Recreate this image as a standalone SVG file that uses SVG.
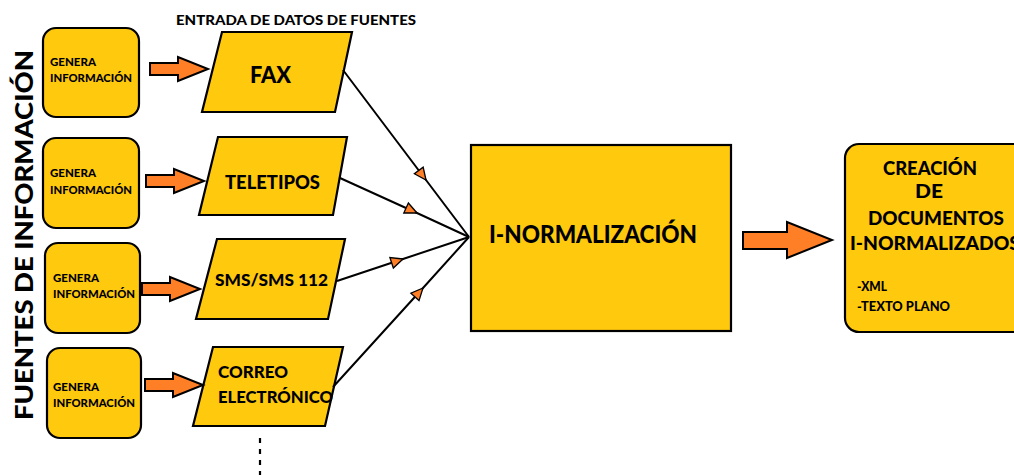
<svg xmlns="http://www.w3.org/2000/svg" width="1014" height="475" viewBox="0 0 1014 475">
<style>
.y{fill:#FFC90E;stroke:#000;stroke-width:2.2}
.or{fill:#FF7F27;stroke:#000;stroke-width:2}
.t{font-family:Lato,"Open Sans","Liberation Sans",sans-serif;font-weight:900;fill:#000}
.g{font-size:11px}
.c{fill:none;stroke:#000;stroke-width:2}
</style>
<defs>
<marker id="ah" viewBox="-14 -8 16 16" refX="0" refY="0" markerWidth="16" markerHeight="16" markerUnits="userSpaceOnUse" orient="auto">
<path d="M0,0 L-12,-5.5 L-12,5.5 Z" fill="#FF7F27" stroke="#000" stroke-width="1.3"/>
</marker>
<path id="sa" d="M-58,-6 H-30 V-12 L0,0 L-30,12 V6 H-58 Z"/>
</defs>
<rect width="1014" height="475" fill="#fff"/>
<text class="t" transform="translate(33,420) rotate(-90)" font-size="25" fill="#111" textLength="370" lengthAdjust="spacingAndGlyphs">FUENTES DE INFORMACIÓN</text>
<text class="t" x="176" y="25" font-size="14" textLength="240" lengthAdjust="spacingAndGlyphs">ENTRADA DE DATOS DE FUENTES</text>
<g id="src1"><rect class="y" x="43" y="28" width="96" height="89" rx="13"/><text class="t g" x="50" y="66" textLength="46" lengthAdjust="spacingAndGlyphs">GENERA</text><text class="t g" x="50" y="82" textLength="82" lengthAdjust="spacingAndGlyphs">INFORMACIÓN</text></g>
<g id="src2"><rect class="y" x="43" y="138" width="96" height="90" rx="13"/><text class="t g" x="50" y="177" textLength="46" lengthAdjust="spacingAndGlyphs">GENERA</text><text class="t g" x="50" y="194" textLength="82" lengthAdjust="spacingAndGlyphs">INFORMACIÓN</text></g>
<g id="src3"><rect class="y" x="45" y="243" width="95" height="90" rx="13"/><text class="t g" x="53" y="282" textLength="46" lengthAdjust="spacingAndGlyphs">GENERA</text><text class="t g" x="53" y="298" textLength="82" lengthAdjust="spacingAndGlyphs">INFORMACIÓN</text></g>
<g id="src4"><rect class="y" x="47" y="348" width="94" height="90" rx="13"/><text class="t g" x="53" y="391" textLength="46" lengthAdjust="spacingAndGlyphs">GENERA</text><text class="t g" x="53" y="407" textLength="82" lengthAdjust="spacingAndGlyphs">INFORMACIÓN</text></g>
<g id="fax"><polygon class="y" points="222,32 352,32 335,112 202,112"/><text class="t" x="250" y="83" font-size="23" textLength="41" lengthAdjust="spacingAndGlyphs">FAX</text></g>
<g id="teletipos"><polygon class="y" points="218,137 347,137 333,215 199,215"/><text class="t" x="225" y="189" font-size="19" textLength="95" lengthAdjust="spacingAndGlyphs">TELETIPOS</text></g>
<g id="sms"><polygon class="y" points="217,239 345,239 328,319 196,319"/><text class="t" x="215" y="286" font-size="17" textLength="113" lengthAdjust="spacingAndGlyphs">SMS/SMS 112</text></g>
<g id="correo"><polygon class="y" points="213,347 343,347 325,426 193,426"/><text class="t" x="218" y="378" font-size="17" textLength="70" lengthAdjust="spacingAndGlyphs">CORREO</text><text class="t" x="218" y="403" font-size="17" textLength="115" lengthAdjust="spacingAndGlyphs">ELECTRÓNICO</text></g>
<g id="norm"><rect class="y" x="471" y="145" width="260" height="186"/><text class="t" x="489" y="243" font-size="24" textLength="208" lengthAdjust="spacingAndGlyphs">I-NORMALIZACIÓN</text></g>
<g id="docs"><rect class="y" x="845" y="144" width="190" height="188" rx="14"/>
<text class="t" x="883" y="175" font-size="19" textLength="94" lengthAdjust="spacingAndGlyphs">CREACIÓN</text>
<text class="t" x="915" y="198" font-size="19" textLength="28" lengthAdjust="spacingAndGlyphs">DE</text>
<text class="t" x="868" y="225" font-size="19" textLength="136" lengthAdjust="spacingAndGlyphs">DOCUMENTOS</text>
<text class="t" x="850" y="250" font-size="19" textLength="170" lengthAdjust="spacingAndGlyphs">I-NORMALIZADOS</text>
<text class="t" x="857" y="291" font-size="13" textLength="30" lengthAdjust="spacingAndGlyphs">-XML</text>
<text class="t" x="857" y="311" font-size="13" textLength="93" lengthAdjust="spacingAndGlyphs">-TEXTO PLANO</text></g>
<g id="connectors">
<use href="#sa" class="or" transform="translate(208,69)"/>
<use href="#sa" class="or" transform="translate(204,181)"/>
<use href="#sa" class="or" transform="translate(200,289)"/>
<use href="#sa" class="or" transform="translate(203,385)"/>
<path class="or" d="M743,232 H787 V222 L832,240 L787,258 V249 H743 Z"/>
<polyline class="c" points="343,70 426,180 469,237" marker-mid="url(#ah)"/>
<polyline class="c" points="340,178 417,213 469,237" marker-mid="url(#ah)"/>
<polyline class="c" points="337,281 403,259 469,237" marker-mid="url(#ah)"/>
<polyline class="c" points="333,387 423,288 469,237" marker-mid="url(#ah)"/>
<line x1="260" y1="438" x2="260" y2="475" stroke="#000" stroke-width="2.2" stroke-dasharray="5 6"/>
</g>
</svg>
